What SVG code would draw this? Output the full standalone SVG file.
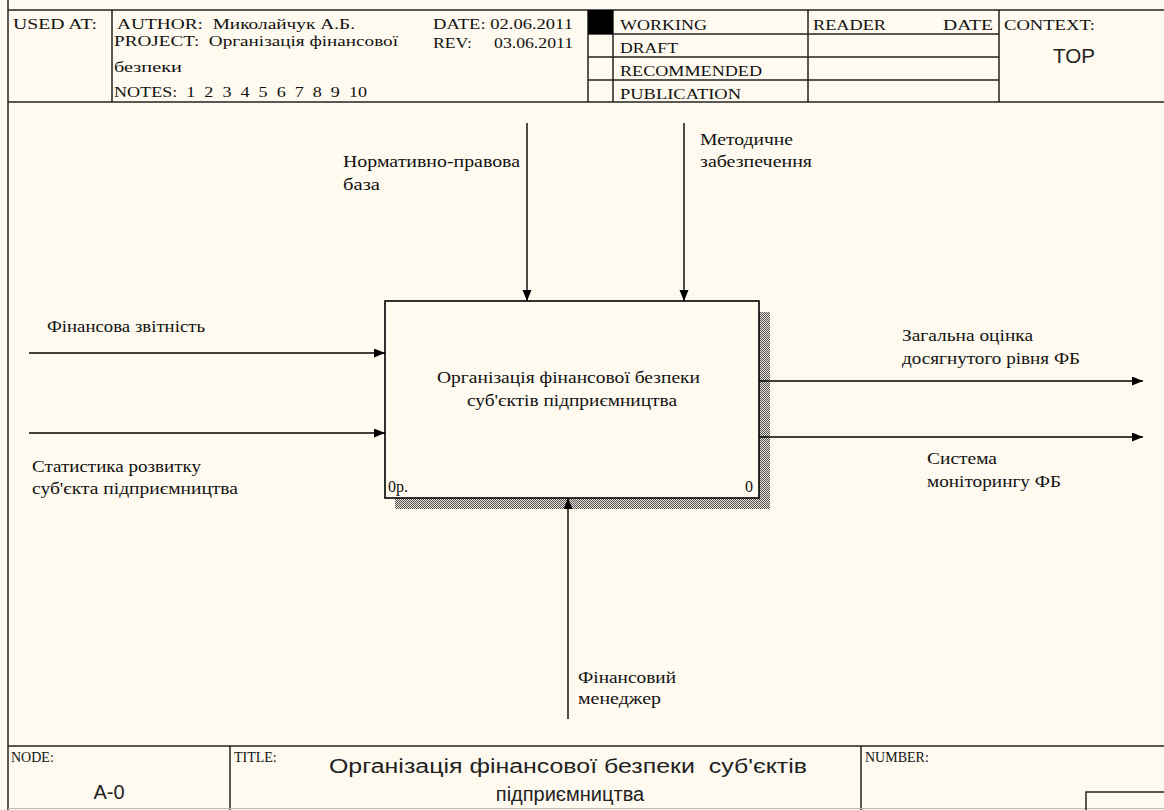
<svg xmlns="http://www.w3.org/2000/svg" width="1164" height="810" viewBox="0 0 1164 810">
<style>
.s{font-family:"Liberation Serif","DejaVu Serif",serif;font-size:16px;fill:#111}
.h{font-family:"Liberation Serif","DejaVu Serif",serif;font-size:15px;fill:#111}
.f{font-family:"Liberation Serif","DejaVu Serif",serif;font-size:14px;fill:#111}
.a{font-family:"Liberation Sans",Arial,sans-serif;fill:#222}
.g{stroke:#222;stroke-width:1.5;fill:none}
.c{stroke:#000;stroke-width:1.4;fill:none}
</style>
<defs>
<pattern id="hatch" width="2" height="2" patternUnits="userSpaceOnUse">
<rect width="2" height="2" fill="#e6e2d8"/>
<rect width="1" height="1" fill="#555"/>
<rect x="1" y="1" width="1" height="1" fill="#555"/>
</pattern>
<marker id="arr" markerUnits="userSpaceOnUse" markerWidth="12" markerHeight="10" refX="11" refY="4.5" orient="auto">
<path d="M0,0 L11,4.5 L0,9 z" fill="#000"/>
</marker>
</defs>
<rect width="1164" height="810" fill="#FFFAF0"/>

<g id="header">
<line class="g" x1="8" y1="10" x2="1164" y2="10"/>
<line class="g" x1="8" y1="102" x2="1164" y2="102" stroke-width="2"/>
<line class="g" x1="588" y1="34" x2="999" y2="34"/>
<line class="g" x1="588" y1="57" x2="999" y2="57"/>
<line class="g" x1="588" y1="80" x2="999" y2="80"/>
<line class="g" x1="112" y1="10" x2="112" y2="102"/>
<line class="g" x1="588" y1="10" x2="588" y2="102"/>
<line class="g" x1="613" y1="10" x2="613" y2="102"/>
<line class="g" x1="808" y1="10" x2="808" y2="102"/>
<line class="g" x1="999" y1="10" x2="999" y2="102"/>
<rect x="588" y="10" width="25" height="24" fill="#000"/>
<text class="h" x="13" y="29" textLength="84" lengthAdjust="spacingAndGlyphs">USED AT:</text>
<text class="h" x="117" y="29" textLength="238" lengthAdjust="spacingAndGlyphs" xml:space="preserve">AUTHOR:  Миколайчук А.Б.</text>
<text class="h" x="114" y="46" textLength="284" lengthAdjust="spacingAndGlyphs" xml:space="preserve">PROJECT:  Організація фінансової</text>
<text class="h" x="114" y="72" textLength="68" lengthAdjust="spacingAndGlyphs">безпеки</text>
<text class="h" x="114" y="97" textLength="253" lengthAdjust="spacingAndGlyphs" xml:space="preserve">NOTES:  1  2  3  4  5  6  7  8  9  10</text>
<text class="h" x="433" y="29" textLength="140" lengthAdjust="spacingAndGlyphs">DATE: 02.06.2011</text>
<text class="h" x="433" y="48" textLength="140" lengthAdjust="spacingAndGlyphs" xml:space="preserve">REV:     03.06.2011</text>
<text class="h" x="620" y="30" textLength="87" lengthAdjust="spacingAndGlyphs">WORKING</text>
<text class="h" x="620" y="53" textLength="58" lengthAdjust="spacingAndGlyphs">DRAFT</text>
<text class="h" x="620" y="76" textLength="142" lengthAdjust="spacingAndGlyphs">RECOMMENDED</text>
<text class="h" x="620" y="99" textLength="121" lengthAdjust="spacingAndGlyphs">PUBLICATION</text>
<text class="h" x="813" y="30" textLength="73" lengthAdjust="spacingAndGlyphs">READER</text>
<text class="h" x="943" y="30" textLength="50" lengthAdjust="spacingAndGlyphs">DATE</text>
<text class="h" x="1004" y="30" textLength="91" lengthAdjust="spacingAndGlyphs">CONTEXT:</text>
<text class="a" x="1053" y="63" font-size="20" textLength="42" lengthAdjust="spacingAndGlyphs">TOP</text>
</g>

<g id="frame">
<line class="g" x1="8" y1="0" x2="8" y2="810" stroke-width="2"/>
</g>

<g id="node-A0">
<rect x="759" y="312" width="11" height="197" fill="url(#hatch)"/>
<rect x="395" y="498" width="375" height="11" fill="url(#hatch)"/>
<rect x="385" y="301" width="374" height="197" fill="#FFFAF0" stroke="#000" stroke-width="1.6"/>
<text class="s" x="568.5" y="383" text-anchor="middle" textLength="263" lengthAdjust="spacingAndGlyphs">Організація фінансової безпеки</text>
<text class="s" x="572" y="406" text-anchor="middle" textLength="210" lengthAdjust="spacingAndGlyphs">суб'єктів підприємництва</text>
<text class="s" x="388" y="492">0р.</text>
<text class="s" x="745" y="492">0</text>
</g>

<g id="connectors">
<line class="c" x1="29" y1="353" x2="385" y2="353" marker-end="url(#arr)"/>
<line class="c" x1="29" y1="433" x2="385" y2="433" marker-end="url(#arr)"/>
<line class="c" x1="527" y1="123" x2="527" y2="301" marker-end="url(#arr)"/>
<line class="c" x1="684" y1="123" x2="684" y2="301" marker-end="url(#arr)"/>
<line class="c" x1="759" y1="381" x2="1143" y2="381" marker-end="url(#arr)"/>
<line class="c" x1="759" y1="437" x2="1143" y2="437" marker-end="url(#arr)"/>
<line class="c" x1="568" y1="719" x2="568" y2="498" marker-end="url(#arr)"/>
</g>

<g id="labels">
<text class="s" x="47" y="332" textLength="158" lengthAdjust="spacingAndGlyphs">Фінансова звітність</text>
<text class="s" x="32" y="472" textLength="169" lengthAdjust="spacingAndGlyphs">Статистика розвитку</text>
<text class="s" x="32" y="494" textLength="206" lengthAdjust="spacingAndGlyphs">суб'єкта підприємництва</text>
<text class="s" x="343" y="167" textLength="177" lengthAdjust="spacingAndGlyphs">Нормативно-правова</text>
<text class="s" x="343" y="190" textLength="37" lengthAdjust="spacingAndGlyphs">база</text>
<text class="s" x="700" y="145" textLength="93" lengthAdjust="spacingAndGlyphs">Методичне</text>
<text class="s" x="700" y="167" textLength="112" lengthAdjust="spacingAndGlyphs">забезпечення</text>
<text class="s" x="902" y="341" textLength="131" lengthAdjust="spacingAndGlyphs">Загальна оцінка</text>
<text class="s" x="902" y="364" textLength="178" lengthAdjust="spacingAndGlyphs">досягнутого рівня ФБ</text>
<text class="s" x="927" y="464" textLength="70" lengthAdjust="spacingAndGlyphs">Система</text>
<text class="s" x="927" y="487" textLength="134" lengthAdjust="spacingAndGlyphs">моніторингу ФБ</text>
<text class="s" x="578" y="683" textLength="98" lengthAdjust="spacingAndGlyphs">Фінансовий</text>
<text class="s" x="578" y="704" textLength="83" lengthAdjust="spacingAndGlyphs">менеджер</text>
</g>

<g id="footer">
<line class="g" x1="8" y1="746" x2="1164" y2="746" stroke-width="2"/>
<line class="g" x1="230" y1="746" x2="230" y2="810"/>
<line class="g" x1="861" y1="746" x2="861" y2="810"/>
<line x1="8" y1="808.5" x2="1164" y2="808.5" stroke="#bbb" stroke-width="1"/>
<path class="g" d="M1086,810 V792 H1164"/>
<text class="f" x="11" y="762">NODE:</text>
<text class="f" x="234" y="762">TITLE:</text>
<text class="f" x="865" y="762">NUMBER:</text>
<text class="a" x="109" y="799" font-size="20" text-anchor="middle">A-0</text>
<text class="a" x="329" y="773" font-size="20" textLength="478" lengthAdjust="spacingAndGlyphs" xml:space="preserve">Організація фінансової безпеки  суб'єктів</text>
<text class="a" x="570" y="801" font-size="20" text-anchor="middle">підприємництва</text>
</g>
</svg>
